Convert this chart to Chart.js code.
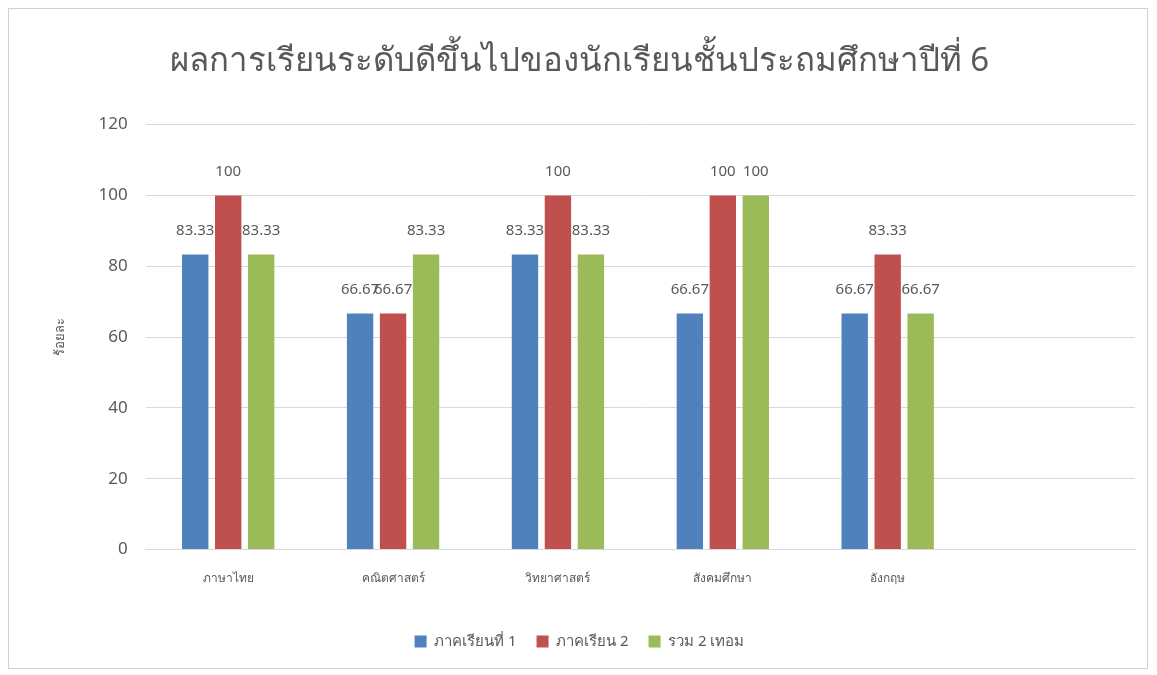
<!DOCTYPE html>
<html>
<head>
<meta charset="utf-8">
<script src="https://cdn.jsdelivr.net/npm/chart.js@4.4.0/dist/chart.umd.min.js"></script>
<style>
  html, body { margin: 0; padding: 0; background: #ffffff; }
</style>
</head>
<body>
<canvas id="myCanvas" width="1157" height="675"></canvas>
<script>
// data
var subjects = ["ภาษาไทย", "คณิตศาสตร์", "วิทยาศาสตร์", "สังคมศึกษา", "อังกฤษ", ""];
var term1 = [83.33, 66.67, 83.33, 66.67, 66.67, null];
var term2 = [100, 66.67, 100, 100, 83.33, null];
var both = [83.33, 83.33, 83.33, 100, 66.67, null];
var seriesNames = ["ภาคเรียนที่ 1", "ภาคเรียน 2", "รวม 2 เทอม"];
var yTicks = [0, 20, 40, 60, 80, 100, 120];

var textGray = "#595959";
var gridGray = "#d9d9d9";
var fontName = "'Noto Sans', 'DejaVu Sans', sans-serif";

// white page with the thin outer frame
var framePlugin = {
  id: "frame",
  beforeDraw: function (chart) {
    var ctx = chart.ctx;
    ctx.save();
    ctx.fillStyle = "#ffffff";
    ctx.fillRect(0, 0, chart.width, chart.height);
    ctx.strokeStyle = "#d0d0d0";
    ctx.lineWidth = 1;
    ctx.strokeRect(8.5, 8.5, 1139, 660);
    ctx.restore();
  }
};

// value labels above each bar
var valueLabels = {
  id: "valueLabels",
  afterDatasetsDraw: function (chart) {
    var ctx = chart.ctx;
    ctx.save();
    ctx.fillStyle = textGray;
    ctx.font = "15px " + fontName;
    ctx.textAlign = "center";
    ctx.textBaseline = "bottom";
    chart.data.datasets.forEach(function (ds, i) {
      var meta = chart.getDatasetMeta(i);
      meta.data.forEach(function (bar, j) {
        var v = ds.data[j];
        if (v === null) return;
        ctx.fillText(String(v), bar.x, bar.y - 16);
      });
    });
    ctx.restore();
  }
};

var chart = new Chart(document.getElementById("myCanvas"), {
  type: "bar",
  data: {
    labels: subjects,
    datasets: [
      { label: seriesNames[0], data: term1, backgroundColor: "#4f81bd" },
      { label: seriesNames[1], data: term2, backgroundColor: "#c0504d" },
      { label: seriesNames[2], data: both, backgroundColor: "#9bbb59" }
    ]
  },
  options: {
    responsive: false,
    animation: false,
    devicePixelRatio: 1,
    categoryPercentage: 0.6,
    barPercentage: 0.8,
    layout: { padding: { left: 24, right: 22, top: 42, bottom: 16 } },
    plugins: {
      title: {
        display: true,
        text: "ผลการเรียนระดับดีขึ้นไปของนักเรียนชั้นประถมศึกษาปีที่ 6",
        color: textGray,
        font: { family: fontName, size: 33, weight: "normal" },
        padding: { top: 0, bottom: 43 }
      },
      legend: {
        position: "bottom",
        labels: {
          color: textGray,
          font: { family: fontName, size: 15 },
          boxWidth: 12,
          boxHeight: 12,
          padding: 20
        }
      },
      tooltip: { enabled: false }
    },
    scales: {
      x: {
        grid: { display: false, drawTicks: false },
        border: { color: gridGray },
        ticks: { color: textGray, font: { family: fontName, size: 12 }, padding: 22, maxRotation: 0 },
        afterFit: function (axis) { axis.height += 6; }
      },
      y: {
        min: 0,
        max: 120,
        afterBuildTicks: function (axis) {
          axis.ticks = yTicks.map(function (v) { return { value: v }; });
        },
        afterFit: function (axis) { axis.width += 3; },
        grid: { color: gridGray, drawTicks: false },
        border: { display: false },
        ticks: { color: textGray, font: { family: fontName, size: 17 }, padding: 18 },
        title: {
          display: true,
          text: "ร้อยละ",
          color: textGray,
          font: { family: fontName, size: 13 },
          padding: { top: 28, bottom: 10 }
        }
      }
    }
  },
  plugins: [framePlugin, valueLabels]
});
</script>
</body>
</html>
